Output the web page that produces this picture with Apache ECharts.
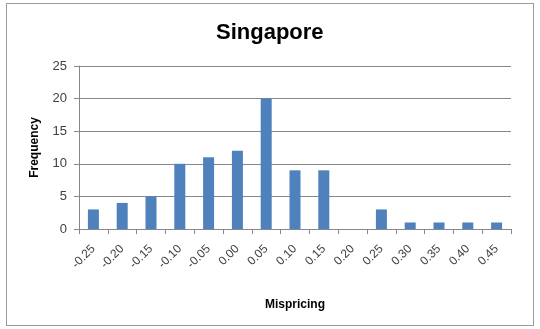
<!DOCTYPE html>
<html><head><meta charset="utf-8">
<script src="https://cdn.jsdelivr.net/npm/echarts@6/dist/echarts.min.js"></script>
<style>html,body{margin:0;padding:0;background:#fff}#c{width:540px;height:329px}
#frame{position:absolute;left:6px;top:3px;width:528px;height:323px;border:1px solid #9a9a9a;box-sizing:border-box;pointer-events:none}</style>
</head><body><div id="c"></div><div id="frame"></div>
<script>
const categories = ["-0.25","-0.20","-0.15","-0.10","-0.05","0.00","0.05","0.10","0.15","0.20","0.25","0.30","0.35","0.40","0.45"];
const frequency = [3,4,5,10,11,12,20,9,9,0,3,1,1,1,1];
const yTicks = {min:0,max:25,interval:5};
const chart = echarts.init(document.getElementById('c'));
const font = '"Liberation Sans", Arial, sans-serif';
chart.setOption({
  animation:false,
  title:{text:'Singapore',left:211,top:17,textStyle:{fontFamily:font,fontSize:22,fontWeight:'bold',color:'#000'}},
  grid:{left:79,right:29,top:66,bottom:100},
  xAxis:{type:'category',data:categories,name:'Mispricing',nameLocation:'middle',nameGap:70,
    nameTextStyle:{fontFamily:font,fontSize:12,fontWeight:'bold',color:'#000'},
    axisLine:{lineStyle:{color:'#878787'}},axisTick:{show:true,length:5,lineStyle:{color:'#878787'}},
    axisLabel:{rotate:45,fontFamily:font,fontSize:12,color:'#404040',margin:18,interval:0}},
  yAxis:{type:'value',min:yTicks.min,max:yTicks.max,interval:yTicks.interval,name:'Frequency',nameLocation:'middle',nameGap:38,
    nameTextStyle:{fontFamily:font,fontSize:12,fontWeight:'bold',color:'#000'},
    axisLine:{show:true,lineStyle:{color:'#878787'}},axisTick:{show:true,length:5,lineStyle:{color:'#878787'}},
    axisLabel:{fontFamily:font,fontSize:13,color:'#404040',margin:12},
    splitLine:{lineStyle:{color:'#878787'}}},
  series:[{type:'bar',data:frequency,barWidth:11,itemStyle:{color:'#4F81BD'}}]
});
</script></body></html>
